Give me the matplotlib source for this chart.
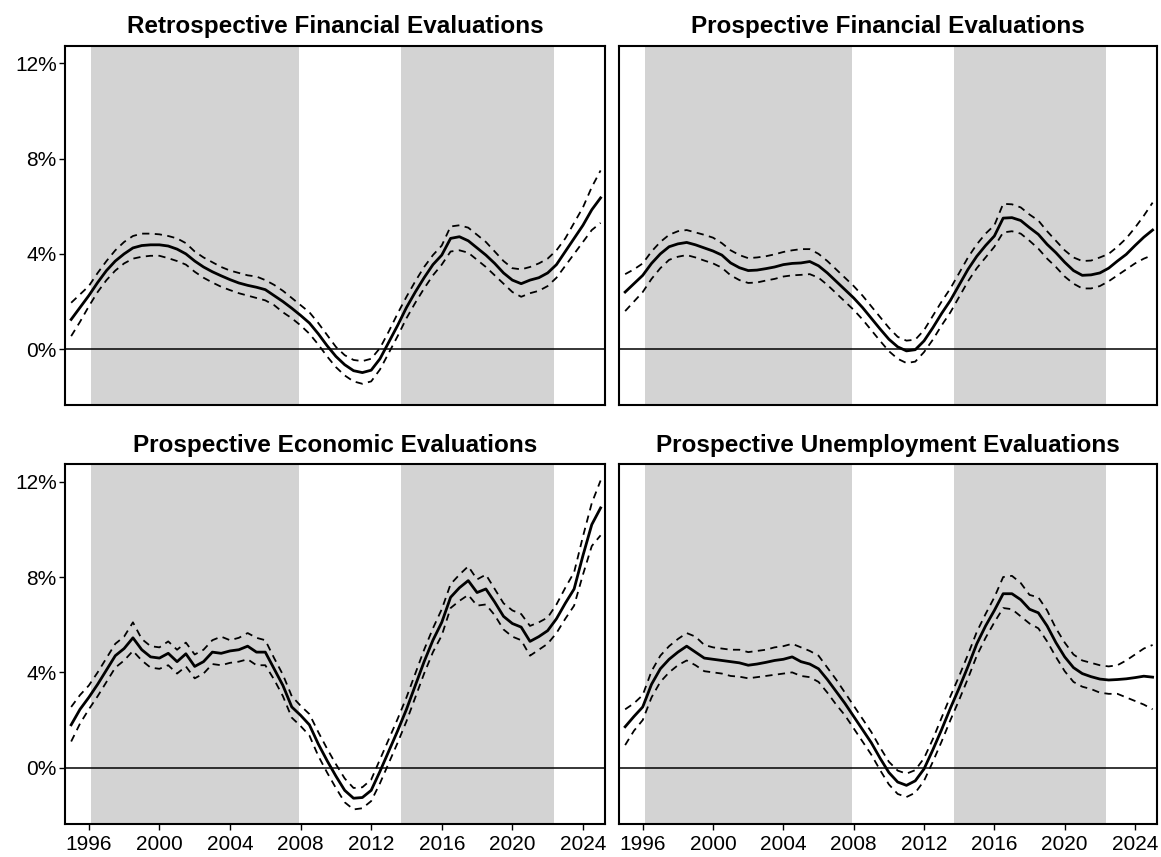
import matplotlib
matplotlib.use("Agg")
import matplotlib.pyplot as plt
import numpy as np
from matplotlib.ticker import FuncFormatter

plt.rcParams['font.family'] = ['Liberation Sans', 'DejaVu Sans']

# half-year grid, 1995.0 .. 2025.0
years = np.arange(1995.0, 2025.01, 0.5)

titles = ["Retrospective Financial Evaluations", "Prospective Financial Evaluations",
          "Prospective Economic Evaluations", "Prospective Unemployment Evaluations"]

# shaded periods
shade_start = [1996.13, 2013.68]
shade_end = [2007.92, 2022.37]

retro_fin = [1.25, 1.75, 2.25, 2.8, 3.3, 3.7, 4.0, 4.25, 4.35, 4.38, 4.38, 4.33, 4.2, 4.0, 3.7, 3.45,
             3.25, 3.08, 2.92, 2.78, 2.68, 2.6, 2.5, 2.25, 2.0, 1.72, 1.42, 1.1, 0.65, 0.15, -0.3, -0.65,
             -0.9, -0.98, -0.88, -0.4, 0.3, 1.0, 1.75, 2.4, 3.0, 3.55, 3.95, 4.65, 4.72, 4.55, 4.25, 3.95,
             3.6, 3.2, 2.9, 2.75, 2.9, 3.0, 3.2, 3.55, 4.1, 4.65, 5.2, 5.85, 6.35]
retro_fin_hi = [1.95, 2.3, 2.65, 3.2, 3.7, 4.15, 4.5, 4.75, 4.85, 4.85, 4.82, 4.75, 4.65, 4.45, 4.1, 3.85,
                3.65, 3.45, 3.3, 3.2, 3.1, 3.05, 2.9, 2.7, 2.45, 2.15, 1.85, 1.55, 1.1, 0.6, 0.1, -0.25,
                -0.45, -0.5, -0.4, 0.05, 0.75, 1.5, 2.2, 2.85, 3.45, 3.95, 4.35, 5.15, 5.2, 5.1, 4.8, 4.5,
                4.1, 3.7, 3.4, 3.35, 3.45, 3.6, 3.8, 4.15, 4.65, 5.3, 5.95, 6.8, 7.5]
retro_fin_lo = [0.55, 1.15, 1.8, 2.4, 2.9, 3.3, 3.6, 3.8, 3.88, 3.92, 3.92, 3.82, 3.7, 3.55, 3.25, 3.0,
                2.8, 2.62, 2.48, 2.35, 2.25, 2.15, 2.05, 1.85, 1.55, 1.3, 1.0, 0.65, 0.2, -0.3, -0.75, -1.1,
                -1.35, -1.45, -1.35, -0.85, -0.15, 0.55, 1.3, 1.95, 2.55, 3.1, 3.55, 4.1, 4.15, 4.05, 3.75, 3.45,
                3.1, 2.75, 2.4, 2.2, 2.35, 2.45, 2.65, 3.0, 3.5, 4.0, 4.5, 5.0, 5.3]

prosp_fin = [2.4, 2.75, 3.1, 3.6, 4.0, 4.3, 4.42, 4.48, 4.38, 4.25, 4.12, 3.95, 3.62, 3.42, 3.3, 3.32,
             3.38, 3.45, 3.55, 3.6, 3.62, 3.68, 3.5, 3.2, 2.85, 2.5, 2.15, 1.75, 1.3, 0.85, 0.42, 0.1,
             -0.07, -0.02, 0.35, 0.9, 1.5, 2.05, 2.7, 3.35, 3.9, 4.35, 4.75, 5.5, 5.52, 5.4, 5.1, 4.82,
             4.4, 4.05, 3.65, 3.3, 3.1, 3.12, 3.2, 3.4, 3.7, 3.98, 4.35, 4.7, 5.0]
prosp_fin_hi = [3.15, 3.35, 3.6, 4.1, 4.5, 4.8, 4.95, 5.0, 4.9, 4.8, 4.68, 4.45, 4.15, 3.95, 3.82, 3.85,
                3.9, 3.98, 4.08, 4.15, 4.2, 4.2, 4.0, 3.7, 3.35, 3.0, 2.65, 2.25, 1.8, 1.35, 0.9, 0.52,
                0.36, 0.4, 0.8, 1.4, 2.0, 2.55, 3.2, 3.85, 4.4, 4.85, 5.2, 6.1, 6.08, 5.95, 5.65, 5.4,
                4.95, 4.55, 4.15, 3.85, 3.7, 3.72, 3.85, 4.0, 4.3, 4.65, 5.1, 5.6, 6.15]
prosp_fin_lo = [1.6, 2.0, 2.4, 2.95, 3.4, 3.75, 3.88, 3.95, 3.85, 3.72, 3.6, 3.42, 3.1, 2.9, 2.78, 2.8,
                2.88, 2.95, 3.05, 3.1, 3.12, 3.15, 3.0, 2.7, 2.35, 2.0, 1.65, 1.25, 0.8, 0.35, -0.08, -0.4,
                -0.58, -0.52, -0.12, 0.4, 1.0, 1.55, 2.2, 2.85, 3.4, 3.85, 4.3, 4.9, 4.95, 4.85, 4.55, 4.22,
                3.8, 3.45, 3.05, 2.75, 2.55, 2.55, 2.65, 2.85, 3.1, 3.35, 3.6, 3.8, 3.95]

prosp_econ = [1.8, 2.45, 2.95, 3.5, 4.1, 4.7, 5.0, 5.45, 4.95, 4.65, 4.6, 4.8, 4.45, 4.78, 4.25, 4.45,
              4.85, 4.8, 4.9, 4.95, 5.1, 4.85, 4.85, 4.15, 3.45, 2.55, 2.2, 1.8, 1.0, 0.3, -0.35, -0.95,
              -1.28, -1.25, -0.95, -0.15, 0.7, 1.55, 2.45, 3.45, 4.45, 5.35, 6.1, 7.15, 7.55, 7.85, 7.35, 7.5,
              6.95, 6.35, 6.05, 5.9, 5.3, 5.5, 5.75, 6.25, 6.9, 7.5, 8.9, 10.2, 10.9]
prosp_econ_hi = [2.55, 3.05, 3.45, 4.0, 4.6, 5.2, 5.5, 6.1, 5.4, 5.1, 5.05, 5.3, 4.95, 5.25, 4.75, 4.95,
                 5.35, 5.5, 5.35, 5.45, 5.65, 5.45, 5.35, 4.6, 3.9, 3.0, 2.6, 2.25, 1.5, 0.8, 0.15, -0.45,
                 -0.85, -0.82, -0.5, 0.35, 1.2, 2.05, 2.95, 3.95, 4.95, 5.85, 6.65, 7.7, 8.1, 8.45, 7.9, 8.1,
                 7.5, 6.9, 6.6, 6.45, 5.95, 6.1, 6.3, 6.85, 7.55, 8.2, 9.7, 11.1, 12.05]
prosp_econ_lo = [1.1, 1.85, 2.45, 3.0, 3.6, 4.2, 4.5, 4.9, 4.5, 4.2, 4.15, 4.3, 3.95, 4.25, 3.75, 3.95,
                 4.35, 4.3, 4.4, 4.45, 4.55, 4.3, 4.3, 3.7, 3.0, 2.1, 1.75, 1.35, 0.5, -0.2, -0.85, -1.45,
                 -1.75, -1.7, -1.4, -0.65, 0.2, 1.05, 1.95, 2.95, 3.95, 4.85, 5.55, 6.7, 7.0, 7.25, 6.8, 6.85,
                 6.4, 5.8, 5.5, 5.35, 4.7, 4.95, 5.2, 5.65, 6.25, 6.8, 8.1, 9.3, 9.75]

prosp_unemp = [1.72, 2.15, 2.55, 3.5, 4.15, 4.55, 4.85, 5.1, 4.85, 4.6, 4.55, 4.5, 4.45, 4.4, 4.3, 4.35,
               4.42, 4.5, 4.55, 4.65, 4.45, 4.35, 4.15, 3.7, 3.2, 2.7, 2.15, 1.6, 1.05, 0.4, -0.2, -0.6,
               -0.74, -0.55, -0.05, 0.75, 1.6, 2.5, 3.35, 4.25, 5.2, 5.95, 6.6, 7.3, 7.3, 7.05, 6.65, 6.5,
               5.95, 5.25, 4.65, 4.2, 3.95, 3.82, 3.72, 3.68, 3.7, 3.73, 3.78, 3.84, 3.8]
prosp_unemp_hi = [2.45, 2.7, 3.05, 4.05, 4.7, 5.1, 5.4, 5.65, 5.5, 5.15, 5.05, 5.0, 4.95, 4.95, 4.85, 4.9,
                  4.95, 5.05, 5.1, 5.2, 5.05, 4.9, 4.7, 4.2, 3.7, 3.15, 2.6, 2.05, 1.5, 0.85, 0.25, -0.12,
                  -0.25, -0.1, 0.4, 1.2, 2.1, 3.0, 3.85, 4.75, 5.7, 6.45, 7.15, 8.0, 8.05, 7.75, 7.25, 7.15,
                  6.6, 5.85, 5.25, 4.75, 4.5, 4.4, 4.3, 4.25, 4.3, 4.5, 4.75, 5.0, 5.15]
prosp_unemp_lo = [0.95, 1.55, 2.0, 2.95, 3.6, 4.0, 4.3, 4.5, 4.3, 4.05, 4.0, 3.95, 3.85, 3.82, 3.75, 3.8,
                  3.85, 3.9, 3.95, 4.0, 3.85, 3.8, 3.6, 3.15, 2.65, 2.2, 1.65, 1.1, 0.55, -0.1, -0.7, -1.1,
                  -1.23, -1.05, -0.55, 0.25, 1.1, 2.0, 2.85, 3.75, 4.7, 5.45, 6.1, 6.7, 6.65, 6.35, 6.05, 5.85,
                  5.3, 4.65, 4.05, 3.6, 3.4, 3.3, 3.15, 3.1, 3.1, 2.95, 2.8, 2.65, 2.45]

centers = [retro_fin, prosp_fin, prosp_econ, prosp_unemp]
uppers = [retro_fin_hi, prosp_fin_hi, prosp_econ_hi, prosp_unemp_hi]
lowers = [retro_fin_lo, prosp_fin_lo, prosp_econ_lo, prosp_unemp_lo]

W, H = 1161, 857
fig = plt.figure(figsize=(W / 100, H / 100), dpi=100)

# panel boxes in pixels: (left, top, right, bottom)
cols = [(65, 605), (619, 1157)]
rows = [(45.8, 405), (464.3, 823.5)]

for i in range(4):
    r, c = divmod(i, 2)
    l, rr = cols[c]
    t, b = rows[r]
    ax = fig.add_axes([l / W, 1 - b / H, (rr - l) / W, (b - t) / H])
    for s, e in zip(shade_start, shade_end):
        ax.axvspan(s, e, color="#d3d3d3", lw=0, zorder=0)
    ax.axhline(0, color="black", lw=1.1, zorder=1)
    ax.plot(years, uppers[i], color="black", lw=1.3, ls=(0, (4, 3)), zorder=2)
    ax.plot(years, lowers[i], color="black", lw=1.3, ls=(0, (4, 3)), zorder=2)
    ax.plot(years, centers[i], color="black", lw=2.0, zorder=3)
    ax.set_xlim(1994.65, 2025.25)
    ax.set_ylim(-2.34, 12.73)
    ax.set_xticks([1996, 2000, 2004, 2008, 2012, 2016, 2020, 2024])
    ax.set_yticks([0, 4, 8, 12])
    ax.yaxis.set_major_formatter(FuncFormatter(lambda v, p: f"{v:.0f}%"))
    ax.tick_params(length=4, width=1.0, color="black", labelsize=15, labelcolor="black", pad=2)
    ax.tick_params(axis="x", pad=4)
    if r == 0:
        ax.tick_params(axis="x", labelbottom=False, length=0)
    if c == 1:
        ax.tick_params(axis="y", labelleft=False, length=0)
    for sp in ax.spines.values():
        sp.set_linewidth(1.5)
        sp.set_color("black")
    ax.set_title(titles[i], fontsize=17.5, fontweight="bold", pad=9)

fig.savefig("out.png", dpi=100)
